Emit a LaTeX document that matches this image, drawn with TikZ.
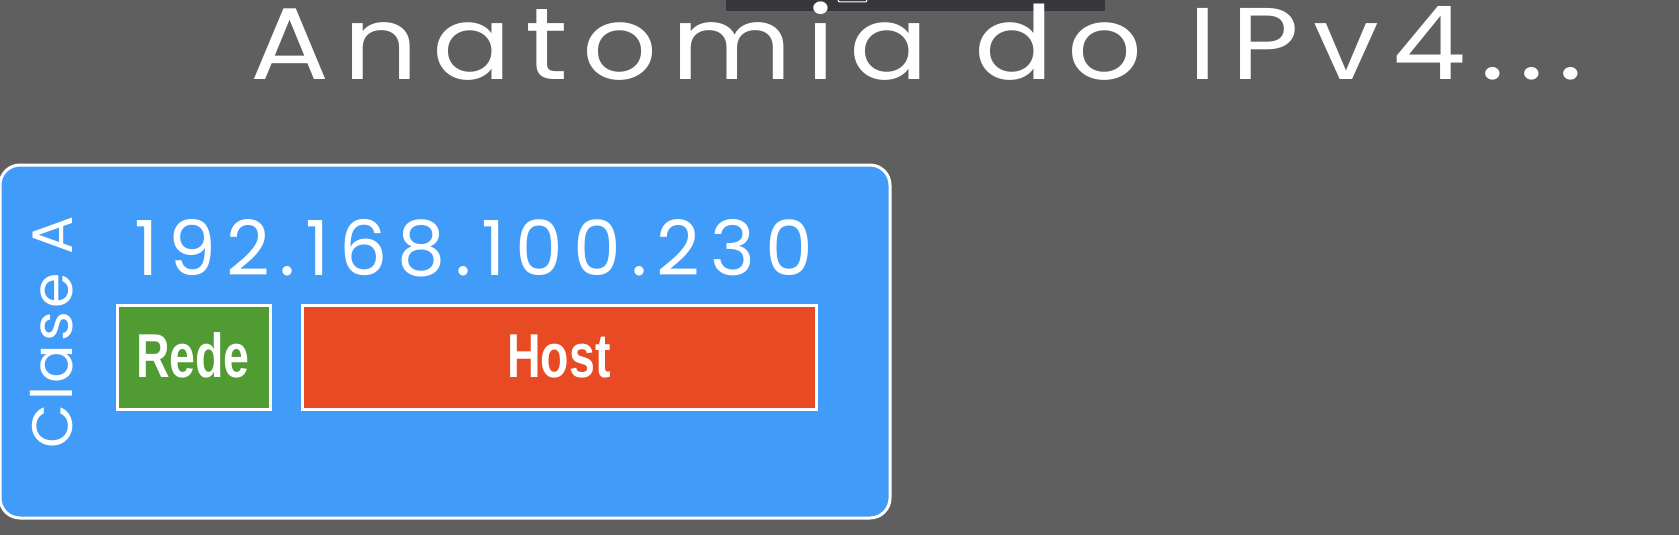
\documentclass[tikz,border=0pt]{standalone}
\usepackage{fontspec}
\setmainfont{Poppins}
\newfontfamily\boldsans{Liberation Sans}
\definecolor{bgc}{RGB}{95,95,95}
\definecolor{barc}{RGB}{53,55,59}
\definecolor{bluec}{RGB}{65,155,249}
\definecolor{greenc}{RGB}{80,155,50}
\definecolor{redc}{RGB}{232,74,36}
\tikzset{
  chalk/.style={text=white, inner sep=0pt},
  panel/.style={draw=white, line width=3pt},
  label/.style={chalk, font=\boldsans\bfseries\fontsize{62}{62}\selectfont, xscale=0.75}
}
\begin{document}
\begin{tikzpicture}[x=1pt,y=-1pt]
\useasboundingbox (0,0) rectangle (1679,535);
\fill[bgc] (0,0) rectangle (1679,535);
% top dark bar
\fill[barc] (726,0) rectangle (1105,11);
\draw[white, line width=1pt, rounded corners=2pt] (838,-8) rectangle (867,2);
% title
\node[chalk, font=\fontsize{102}{102}\selectfont\addfontfeature{LetterSpace=12}, xscale=1.15, anchor=base west] (title) at (250,80) {Anatomia do IPv4...};
% main panel
\draw[panel, fill=bluec, rounded corners=20pt] (0,165) rectangle (890,518);
\node[chalk, font=\fontsize{57}{57}\selectfont\addfontfeature{LetterSpace=6}, rotate=90, anchor=base] (classe) at (72,332) {Clase A};
\node[chalk, font=\fontsize{76}{76}\selectfont\addfontfeature{LetterSpace=13}, anchor=base west] (ip) at (134,275) {192.168.100.230};
\draw[panel, fill=greenc] (117,305) rectangle (270,409);
\node[label, anchor=base] (rede) at (193,377) {Rede};
\draw[panel, fill=redc] (302,305) rectangle (816,409);
\node[label, anchor=base] (host) at (559,377) {Host};
\end{tikzpicture}
\end{document}
